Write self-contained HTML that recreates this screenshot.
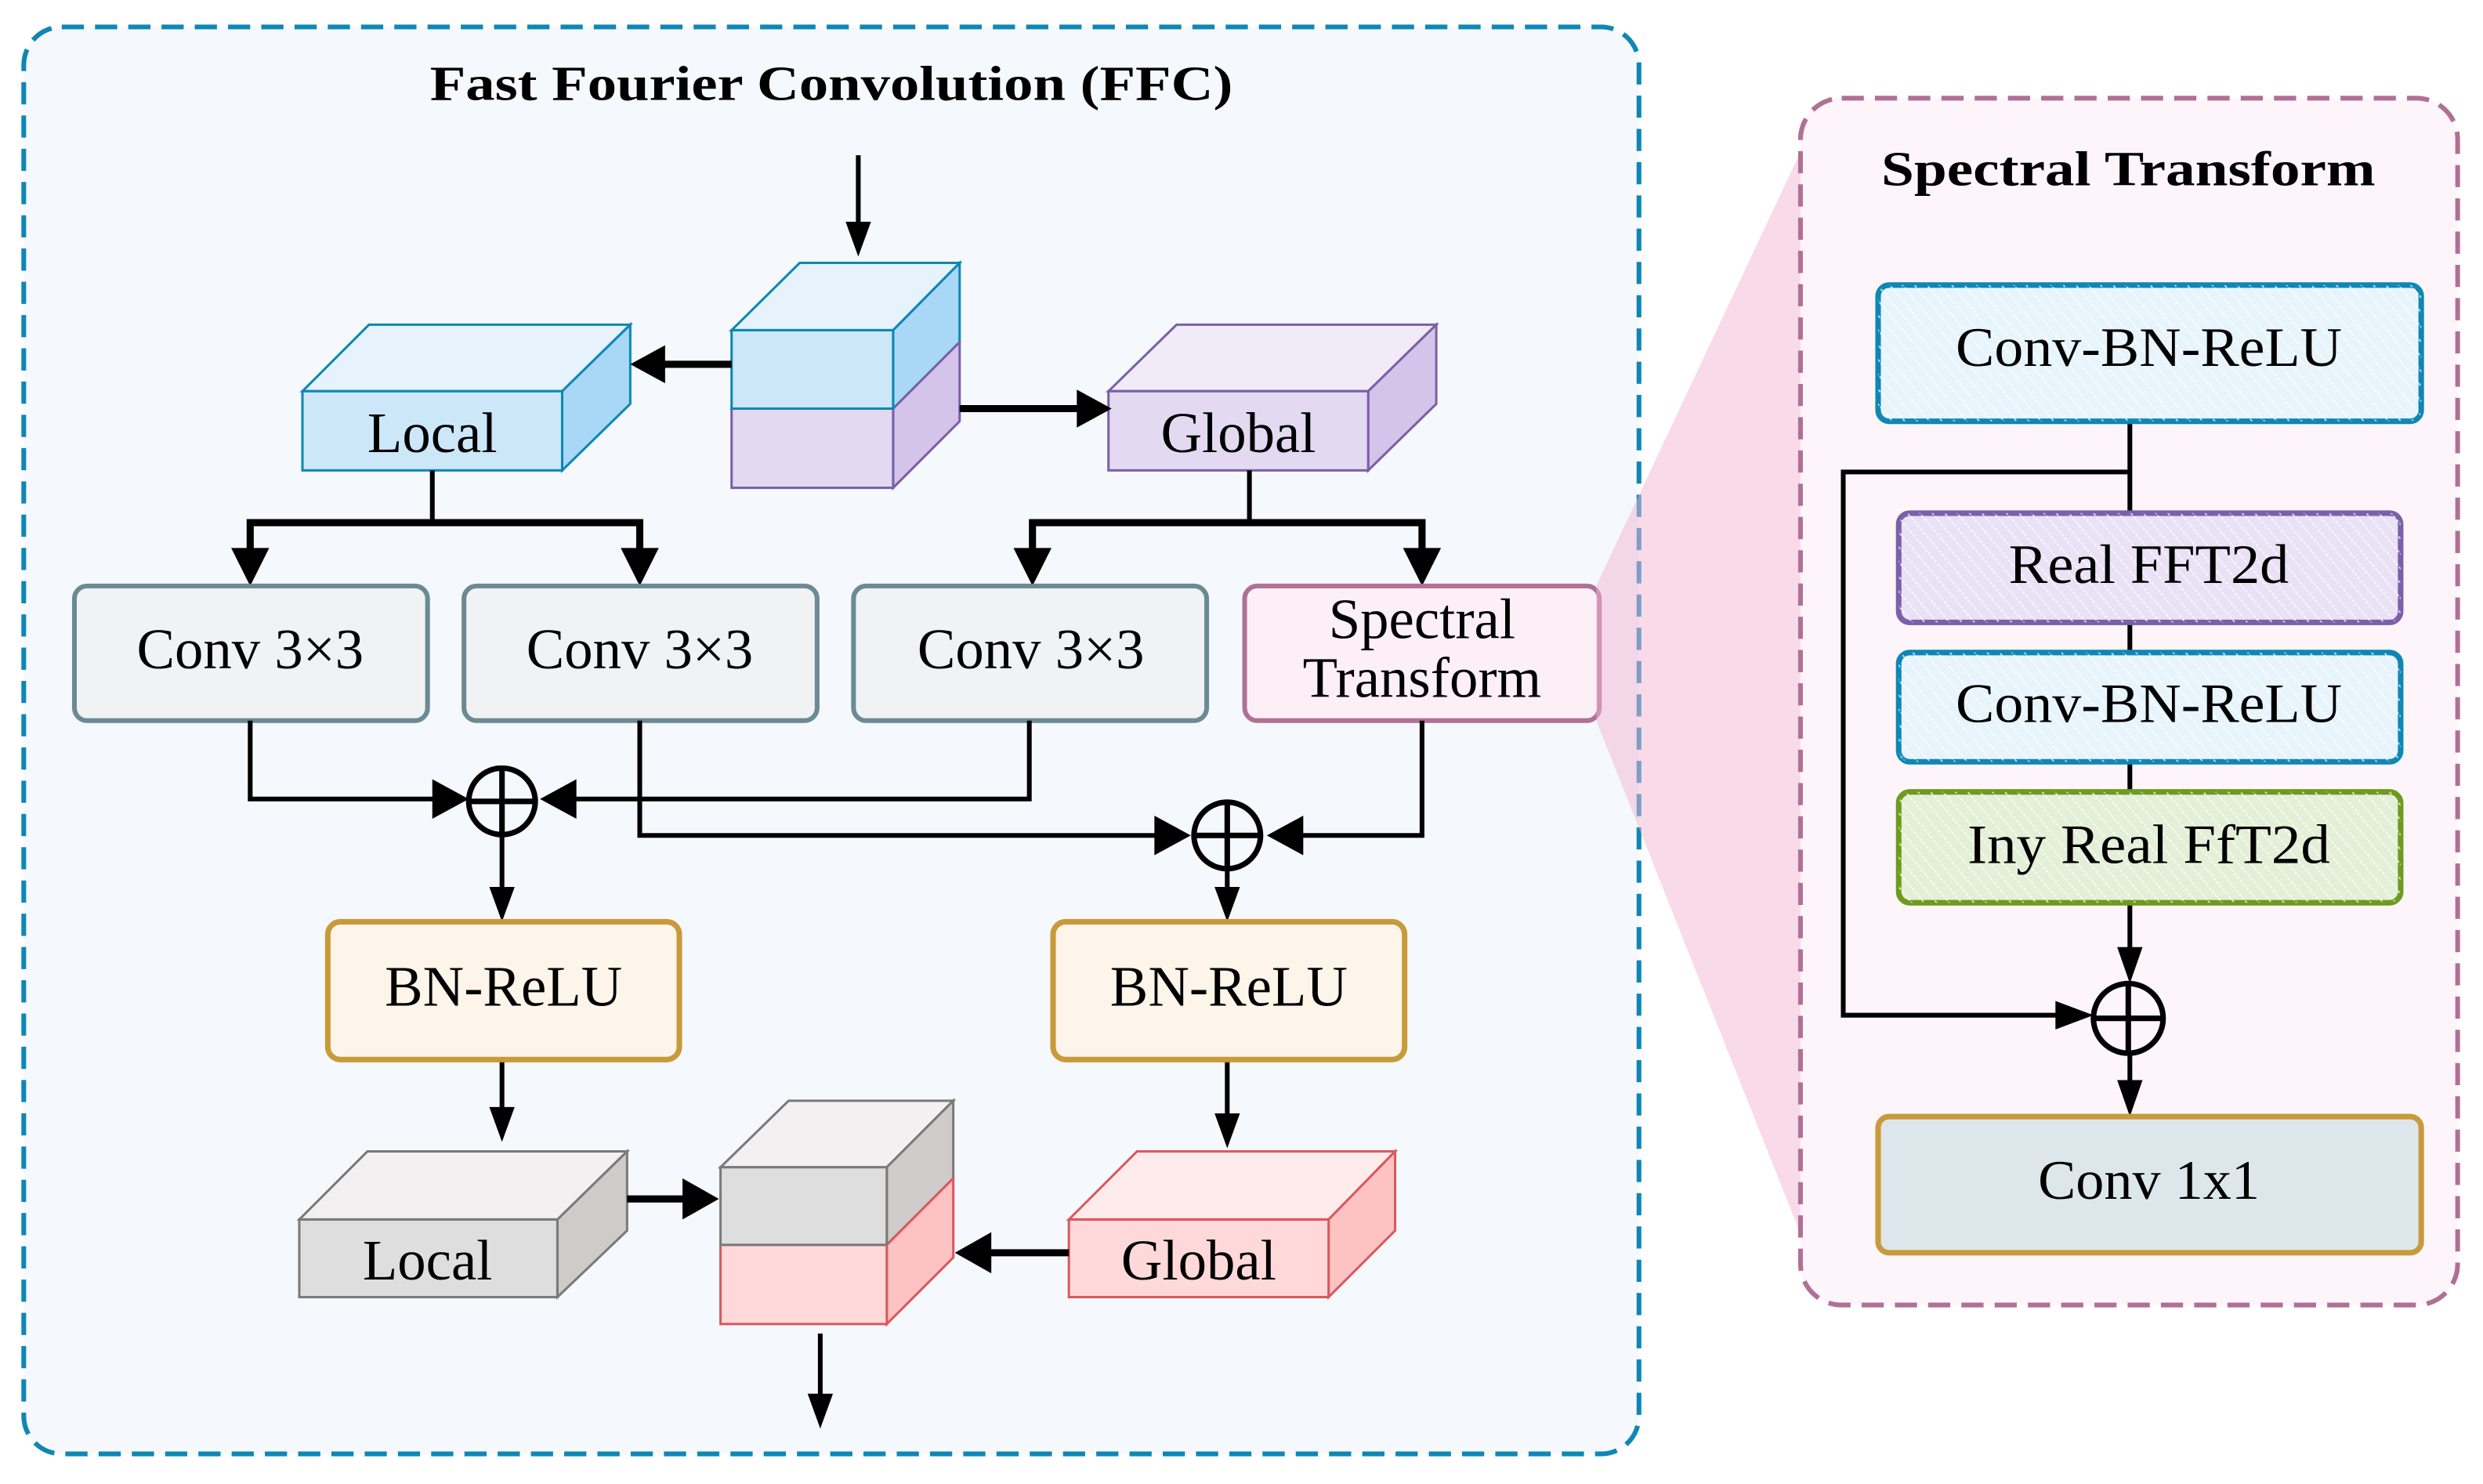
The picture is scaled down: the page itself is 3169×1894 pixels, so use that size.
<!DOCTYPE html>
<html><head><meta charset="utf-8"><style>
html,body{margin:0;padding:0;background:#fff;}
svg{display:block;}
text{font-family:"Liberation Serif",serif;fill:#000;}
</style></head><body>
<svg width="3169" height="1894" viewBox="0 0 1568 937" preserveAspectRatio="none" xmlns="http://www.w3.org/2000/svg">
<defs>
<pattern id="hatch" width="6" height="6" patternUnits="userSpaceOnUse" patternTransform="rotate(-40)">
<rect width="6" height="6" fill="none"/>
<line x1="0" y1="0" x2="0" y2="6" stroke="#ffffff" stroke-width="2" stroke-dasharray="2 1" opacity="0.7"/>
</pattern>
</defs>
<rect width="1568" height="937" fill="#fff"/>
<!-- FFC container -->
<rect x="15" y="17" width="1020" height="901" rx="24" fill="#f5f8fd" stroke="#0e87b5" stroke-width="3" stroke-dasharray="14 7"/>
<text x="525" y="63" font-size="31" font-weight="bold" text-anchor="middle" textLength="507" lengthAdjust="spacingAndGlyphs">Fast Fourier Convolution (FFC)</text>

<!-- input arrow -->
<line x1="542" y1="98" x2="542" y2="142" stroke="#000" stroke-width="3"/>
<polygon points="534,140 550,140 542,162" fill="#000"/>

<!-- center cube -->
<polygon points="462,208.5 505,166 606,166 564,208.5" fill="#e6f2fc" stroke="#0e87b5" stroke-width="1.5"/>
<polygon points="564,208.5 606,166 606,216 564,258" fill="#a8d8f5" stroke="#0e87b5" stroke-width="1.5"/>
<polygon points="564,258 606,216 606,266 564,308" fill="#d4c4ea" stroke="#7b5fa8" stroke-width="1.5"/>
<rect x="462" y="258" width="102" height="50" fill="#e3daf2" stroke="#7b5fa8" stroke-width="1.5"/>
<rect x="462" y="208.5" width="102" height="49.5" fill="#cce7f8" stroke="#0e87b5" stroke-width="1.5"/>

<!-- Local top cube -->
<polygon points="191,247 233,205 398,205 355,247" fill="#e6f2fc" stroke="#0e87b5" stroke-width="1.5"/>
<polygon points="355,247 398,205 398,255 355,297" fill="#a8d8f5" stroke="#0e87b5" stroke-width="1.5"/>
<rect x="191" y="247" width="164" height="50" fill="#cce7f8" stroke="#0e87b5" stroke-width="1.5"/>
<text x="273" y="285.5" font-size="36" text-anchor="middle">Local</text>

<!-- Global top cube -->
<polygon points="700,247 743,205 907,205 864,247" fill="#f1ebf8" stroke="#7b5fa8" stroke-width="1.5"/>
<polygon points="864,247 907,205 907,255 864,297" fill="#d4c4ea" stroke="#7b5fa8" stroke-width="1.5"/>
<rect x="700" y="247" width="164" height="50" fill="#e3daf2" stroke="#7b5fa8" stroke-width="1.5"/>
<text x="782" y="285.5" font-size="36" text-anchor="middle">Global</text>

<!-- center to local/global arrows -->
<line x1="462" y1="230" x2="415" y2="230" stroke="#000" stroke-width="4.5"/>
<polygon points="420,218 420,242 398,230" fill="#000"/>
<line x1="606" y1="258" x2="684" y2="258" stroke="#000" stroke-width="4.5"/>
<polygon points="680,246 680,270 702,258" fill="#000"/>

<!-- local branch -->
<g stroke="#000" fill="none">
<line x1="273" y1="297" x2="273" y2="330" stroke-width="3"/>
<polyline points="158,350 158,330 404,330 404,350" stroke-width="4.5"/>
<line x1="789" y1="297" x2="789" y2="330" stroke-width="3"/>
<polyline points="652,350 652,330 898,330 898,350" stroke-width="4.5"/>
</g>
<g fill="#000">
<polygon points="146,346 170,346 158,370"/>
<polygon points="392,346 416,346 404,370"/>
<polygon points="640,346 664,346 652,370"/>
<polygon points="886,346 910,346 898,370"/>
</g>

<!-- conv boxes -->
<g stroke="#6b8a94" stroke-width="3" fill="#f1f2f4">
<rect x="47" y="370" width="223" height="85" rx="8"/>
<rect x="293" y="370" width="223" height="85" rx="8"/>
<rect x="539" y="370" width="223" height="85" rx="8"/>
</g>
<rect x="786" y="370" width="224" height="85" rx="8" fill="#fcf0f6" stroke="#b07096" stroke-width="3"/>
<g font-size="36" text-anchor="middle">
<text x="158" y="422">Conv 3×3</text>
<text x="404" y="422">Conv 3×3</text>
<text x="651" y="422">Conv 3×3</text>
<text x="898" y="403">Spectral</text>
<text x="898" y="440">Transform</text>
</g>

<!-- sum connections -->
<g stroke="#000" stroke-width="3" fill="none">
<polyline points="158,455 158,504.5 280,504.5"/>
<polyline points="650,455 650,504.5 356,504.5"/>
<polyline points="404,455 404,527.5 738,527.5"/>
<polyline points="898,455 898,527.5 814,527.5"/>
<line x1="317" y1="528" x2="317" y2="565"/>
<line x1="775" y1="549" x2="775" y2="565"/>
<line x1="317" y1="669" x2="317" y2="702"/>
<line x1="775" y1="669" x2="775" y2="706"/>
</g>
<g fill="#000">
<polygon points="273,492 273,517 296,504.5"/>
<polygon points="364,492 364,517 341,504.5"/>
<polygon points="729,515 729,540 752,527.5"/>
<polygon points="823,515 823,540 800,527.5"/>
<polygon points="309,560 325,560 317,582"/>
<polygon points="767,560 783,560 775,582"/>
<polygon points="309,699 325,699 317,721"/>
<polygon points="767,703 783,703 775,725"/>
</g>
<!-- oplus -->
<g stroke="#000" stroke-width="3.5" fill="none">
<circle cx="317" cy="506" r="21"/>
<line x1="296" y1="506" x2="338" y2="506"/>
<line x1="317" y1="485" x2="317" y2="527"/>
<circle cx="775" cy="527.5" r="21"/>
<line x1="754" y1="527.5" x2="796" y2="527.5"/>
<line x1="775" y1="506.5" x2="775" y2="548.5"/>
</g>

<!-- BN-ReLU -->
<g stroke="#c89a3a" stroke-width="3.5" fill="#fef5ea">
<rect x="207" y="582" width="222" height="87" rx="8"/>
<rect x="665" y="582" width="222" height="87" rx="8"/>
</g>
<g font-size="36" text-anchor="middle">
<text x="318" y="635">BN-ReLU</text>
<text x="776" y="635">BN-ReLU</text>
</g>

<!-- lower local cube -->
<polygon points="189,770 232,727 396,727 352,770" fill="#f2f0f0" stroke="#7a7a7a" stroke-width="1.5"/>
<polygon points="352,770 396,727 396,777 352,819" fill="#cfcbc9" stroke="#7a7a7a" stroke-width="1.5"/>
<rect x="189" y="770" width="163" height="49" fill="#dedede" stroke="#7a7a7a" stroke-width="1.5"/>
<text x="270" y="808" font-size="36" text-anchor="middle">Local</text>

<!-- lower global cube -->
<polygon points="675,770 718,727 881,727 839,770" fill="#feecec" stroke="#d9595f" stroke-width="1.5"/>
<polygon points="839,770 881,727 881,777 839,819" fill="#fdc3c3" stroke="#d9595f" stroke-width="1.5"/>
<rect x="675" y="770" width="164" height="49" fill="#ffd9da" stroke="#d9595f" stroke-width="1.5"/>
<text x="757" y="808" font-size="36" text-anchor="middle">Global</text>

<!-- output cube -->
<polygon points="455,737 498,695 602,695 560,737" fill="#f2f0f0" stroke="#7a7a7a" stroke-width="1.5"/>
<polygon points="560,737 602,695 602,744 560,786" fill="#cfcbc9" stroke="#7a7a7a" stroke-width="1.5"/>
<polygon points="560,786 602,744 602,794 560,836" fill="#fdc3c3" stroke="#d9595f" stroke-width="1.5"/>
<rect x="455" y="786" width="105" height="50" fill="#ffd9da" stroke="#d9595f" stroke-width="1.5"/>
<rect x="455" y="737" width="105" height="49" fill="#dedede" stroke="#7a7a7a" stroke-width="1.5"/>

<!-- output arrows -->
<line x1="396" y1="757" x2="436" y2="757" stroke="#000" stroke-width="4.5"/>
<polygon points="431,744 431,770 454,757" fill="#000"/>
<line x1="675" y1="791" x2="620" y2="791" stroke="#000" stroke-width="4.5"/>
<polygon points="626,778 626,804 603,791" fill="#000"/>
<line x1="518" y1="842" x2="518" y2="884" stroke="#000" stroke-width="3"/>
<polygon points="510,880 526,880 518,902" fill="#000"/>

<!-- zoom trapezoid -->
<polygon points="1008,370 1137,96 1137,779 1008,455" fill="#f2b5d3" opacity="0.5"/>

<!-- Spectral Transform panel -->
<rect x="1137" y="62" width="415" height="762" rx="26" fill="#fdf5fa" stroke="#b07096" stroke-width="3" stroke-dasharray="14 7"/>
<text x="1344" y="117" font-size="31" font-weight="bold" text-anchor="middle" textLength="312" lengthAdjust="spacingAndGlyphs">Spectral Transform</text>

<!-- panel connectors -->
<g stroke="#000" stroke-width="3" fill="none">
<line x1="1345" y1="266" x2="1345" y2="324"/>
<polyline points="1345,298 1164,298 1164,641 1305,641"/>
<line x1="1345" y1="393" x2="1345" y2="412"/>
<line x1="1345" y1="481" x2="1345" y2="500"/>
<line x1="1345" y1="570" x2="1345" y2="605"/>
<line x1="1345" y1="665" x2="1345" y2="690"/>
</g>
<g fill="#000">
<polygon points="1337,598 1353,598 1345,621"/>
<polygon points="1298,632 1298,650 1322,641"/>
<polygon points="1337,682 1353,682 1345,705"/>
</g>
<g stroke="#000" stroke-width="3.5" fill="none">
<circle cx="1344" cy="643" r="22"/>
<line x1="1322" y1="643" x2="1366" y2="643"/>
<line x1="1344" y1="621" x2="1344" y2="665"/>
</g>

<!-- panel boxes -->
<rect x="1186" y="180" width="343" height="86" rx="7" fill="#e8f4fc" stroke="#0e87b5" stroke-width="3.5"/>
<rect x="1186" y="180" width="343" height="86" rx="7" fill="url(#hatch)"/>
<rect x="1199" y="324" width="317" height="69" rx="7" fill="#e9e1f5" stroke="#7b5fa8" stroke-width="3.5"/>
<rect x="1199" y="324" width="317" height="69" rx="7" fill="url(#hatch)"/>
<rect x="1199" y="412" width="317" height="69" rx="7" fill="#e8f4fc" stroke="#0e87b5" stroke-width="3.5"/>
<rect x="1199" y="412" width="317" height="69" rx="7" fill="url(#hatch)"/>
<rect x="1199" y="500" width="317" height="70" rx="7" fill="#e3efd6" stroke="#6e9a1e" stroke-width="3.5"/>
<rect x="1199" y="500" width="317" height="70" rx="7" fill="url(#hatch)"/>
<rect x="1186" y="705" width="343" height="86" rx="7" fill="#dde6ea" stroke="#c89a3a" stroke-width="3.5"/>
<g font-size="35" text-anchor="middle">
<text x="1357" y="231" textLength="244" lengthAdjust="spacingAndGlyphs">Conv-BN-ReLU</text>
<text x="1357" y="368" textLength="177" lengthAdjust="spacingAndGlyphs">Real FFT2d</text>
<text x="1357" y="456" textLength="244" lengthAdjust="spacingAndGlyphs">Conv-BN-ReLU</text>
<text x="1357" y="545" textLength="229" lengthAdjust="spacingAndGlyphs">Iny Real FfT2d</text>
<text x="1357" y="757" textLength="140" lengthAdjust="spacingAndGlyphs">Conv 1x1</text>
</g>
</svg>
</body></html>
